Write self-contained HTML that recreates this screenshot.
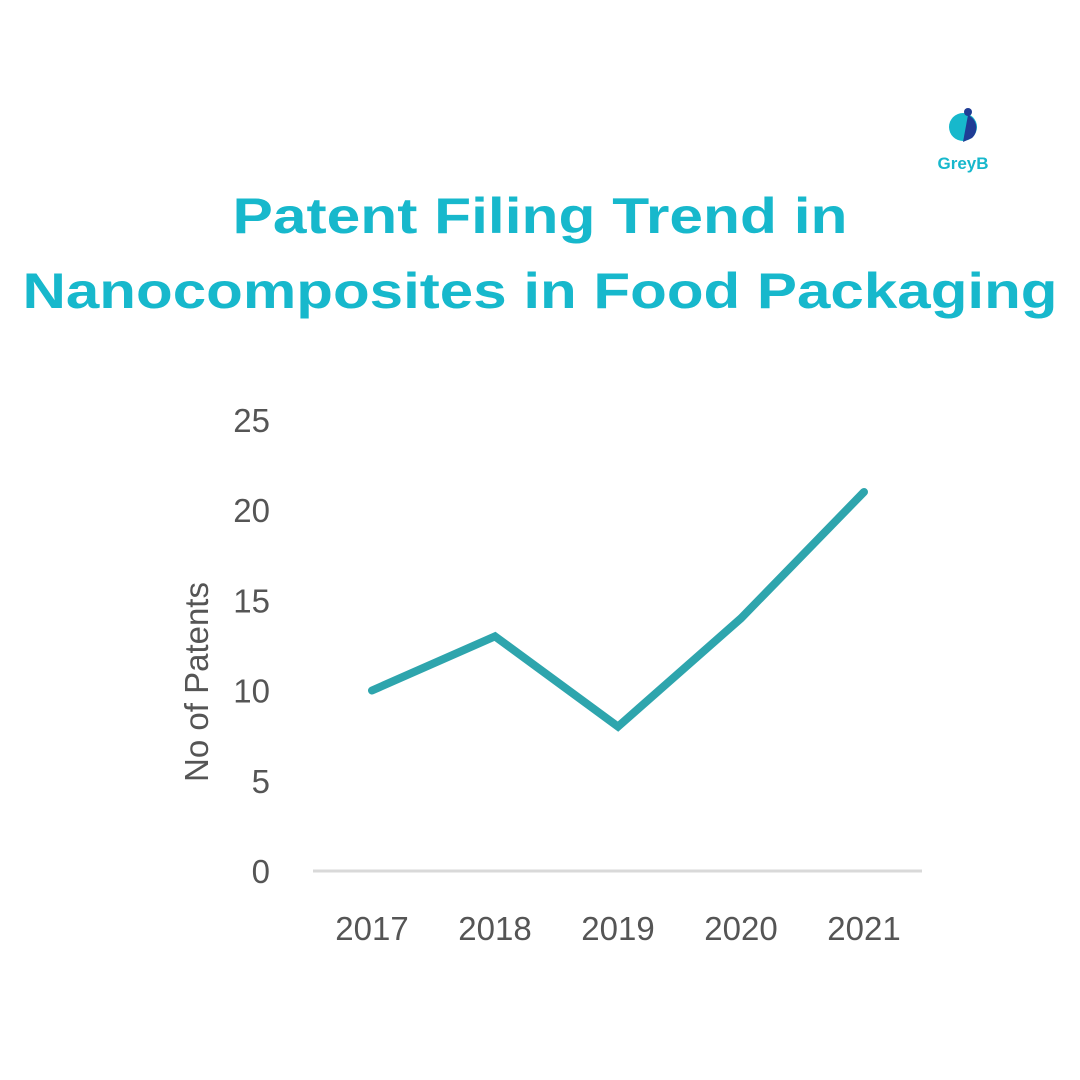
<!DOCTYPE html>
<html><head><meta charset="utf-8"><style>
html,body{margin:0;padding:0;background:#fff;width:1080px;height:1080px;overflow:hidden}
svg{display:block}
</style></head><body>
<svg width="1080" height="1080" viewBox="0 0 1080 1080">
<g>
<circle cx="963" cy="127" r="14" fill="#17b8cc"/>
<path d="M968 115 A14 14 0 0 1 972 138 L963 142 Z" fill="#1f3c95"/>
<circle cx="968" cy="112" r="4" fill="#1f3c95"/>
<text x="963" y="169" text-anchor="middle" font-family="Liberation Sans, sans-serif" font-weight="bold" font-size="17" fill="#17b8cc">GreyB</text>
</g>
<text x="540" y="233" text-anchor="middle" font-family="Liberation Sans, sans-serif" font-weight="bold" font-size="50" fill="#17b8cc" textLength="615" lengthAdjust="spacingAndGlyphs">Patent Filing Trend in</text>
<text x="540" y="308" text-anchor="middle" font-family="Liberation Sans, sans-serif" font-weight="bold" font-size="50" fill="#17b8cc" textLength="1035" lengthAdjust="spacingAndGlyphs">Nanocomposites in Food Packaging</text>
<text transform="translate(208,682) rotate(-90)" text-anchor="middle" font-family="Liberation Sans, sans-serif" font-size="33" fill="#555">No of Patents</text>
<line x1="313" y1="871" x2="922" y2="871" stroke="#d9d9d9" stroke-width="3"/>
<g id="yticks"></g><g id="xticks"></g>
<polyline id="series" fill="none" stroke="#2ea5ad" stroke-width="8" stroke-linejoin="miter" stroke-linecap="round"/>
</svg>
<script>
const years=["2017","2018","2019","2020","2021"];
const patents=[10,13,8,14,21];
const yTicks=[0,5,10,15,20,25];
const y0=871,pxPer=18.05,x0=372,dx=123;
const yS=v=>y0-v*pxPer, xS=i=>x0+i*dx;
const NS="http://www.w3.org/2000/svg";
const yg=document.getElementById('yticks');
yTicks.forEach(t=>{const e=document.createElementNS(NS,'text');


e.setAttribute('x',270);e.setAttribute('y',yS(t)+12);e.setAttribute('text-anchor','end');
e.setAttribute('font-family','Liberation Sans, sans-serif');e.setAttribute('font-size','33');e.setAttribute('fill','#555');
e.textContent=t;yg.appendChild(e);});
const xg=document.getElementById('xticks');
years.forEach((y,i)=>{const e=document.createElementNS(NS,'text');


e.setAttribute('x',xS(i));e.setAttribute('y',940);e.setAttribute('text-anchor','middle');
e.setAttribute('font-family','Liberation Sans, sans-serif');e.setAttribute('font-size','33');e.setAttribute('fill','#555');
e.textContent=y;xg.appendChild(e);});
document.getElementById('series').setAttribute('points',patents.map((v,i)=>xS(i)+','+yS(v)).join(' '));
</script>
</body></html>
